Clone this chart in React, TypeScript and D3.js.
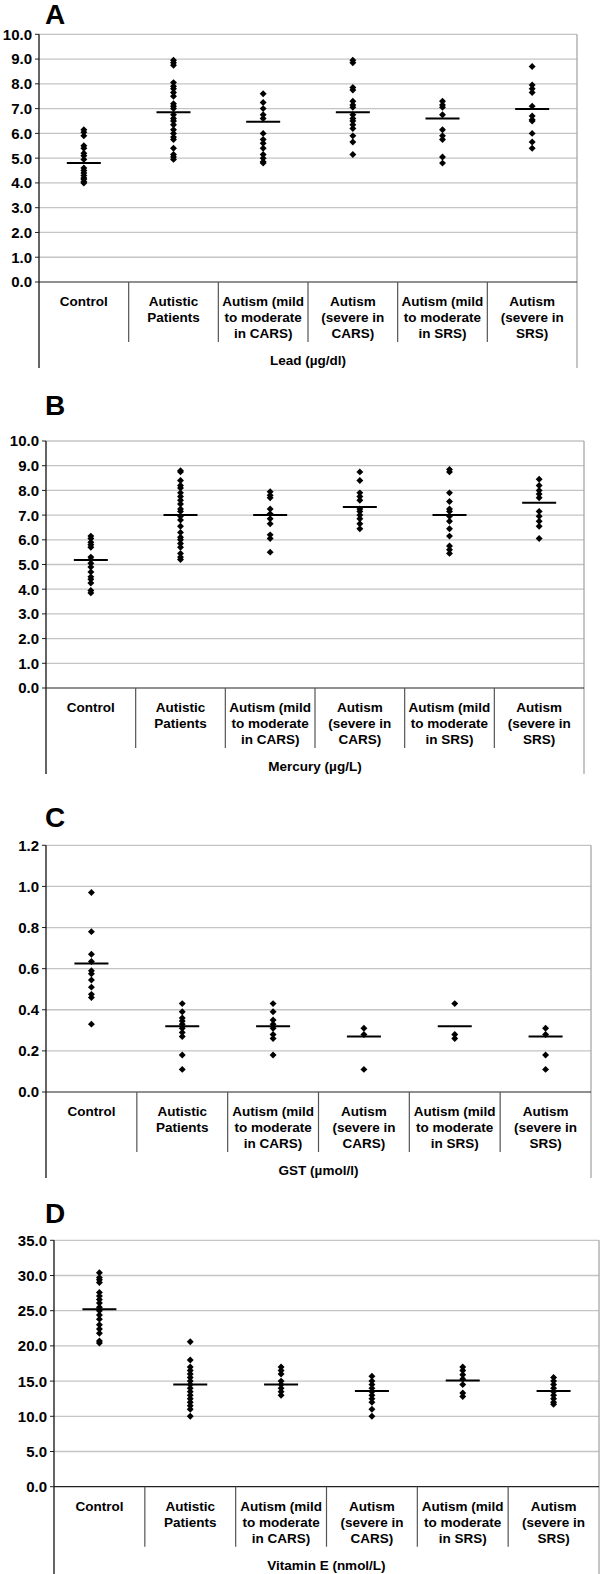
import * as d3 from "d3";

// group labels, split as in the figure
const groupLines: string[][] = [
  ["Control"],
  ["Autistic", "Patients"],
  ["Autism (mild", "to moderate", "in CARS)"],
  ["Autism", "(severe in", "CARS)"],
  ["Autism (mild", "to moderate", "in SRS)"],
  ["Autism", "(severe in", "SRS)"],
];

// A - lead
const leadPoints: number[][] = [
  [6.15, 6.05, 5.9, 5.5, 5.4, 5.2, 5.1, 4.95, 4.6, 4.5, 4.4, 4.3, 4.2, 4.15, 4.05, 4.0],
  [8.95, 8.85, 8.75, 8.05, 7.9, 7.8, 7.65, 7.5, 7.2, 7.1, 7.0, 6.75, 6.6, 6.5, 6.35, 6.15, 6.0, 5.85, 5.75, 5.4, 5.15, 5.05, 4.95],
  [7.6, 7.25, 7.0, 6.75, 6.6, 6.0, 5.75, 5.6, 5.4, 5.15, 5.0, 4.85, 4.8],
  [8.95, 8.85, 7.85, 7.75, 7.3, 7.15, 7.05, 6.75, 6.6, 6.5, 6.35, 6.2, 5.9, 5.65, 5.15],
  [7.3, 7.15, 7.05, 6.75, 6.15, 5.9, 5.75, 5.05, 4.8],
  [8.7, 7.95, 7.8, 7.65, 7.1, 6.7, 6.55, 6.5, 6.0, 5.65, 5.4],
];
const leadMeans = [4.8, 6.85, 6.47, 6.85, 6.6, 6.98];

// B - mercury
const mercuryPoints: number[][] = [
  [6.15, 6.05, 5.9, 5.8, 5.7, 5.3, 5.2, 5.05, 4.9, 4.7, 4.5, 4.4, 4.25, 3.95, 3.85],
  [8.8, 8.75, 8.4, 8.2, 8.1, 7.9, 7.75, 7.6, 7.45, 7.25, 7.15, 6.95, 6.8, 6.55, 6.3, 6.1, 6.0, 5.85, 5.7, 5.45, 5.3, 5.2],
  [7.95, 7.8, 7.7, 7.25, 7.05, 6.85, 6.65, 6.2, 6.05, 5.5],
  [8.75, 8.4, 7.9, 7.75, 7.6, 7.25, 7.15, 7.0, 6.85, 6.65, 6.45],
  [8.85, 8.75, 7.9, 7.55, 7.25, 7.15, 6.95, 6.75, 6.45, 6.15, 5.75, 5.6, 5.45],
  [8.45, 8.2, 8.0, 7.85, 7.7, 7.15, 6.95, 6.75, 6.55, 6.05],
];
const mercuryMeans = [5.18, 7.0, 7.0, 7.33, 7.0, 7.5];

// C - GST
const gstPoints: number[][] = [
  [0.97, 0.78, 0.67, 0.635, 0.59, 0.575, 0.545, 0.51, 0.475, 0.46, 0.33],
  [0.43, 0.39, 0.36, 0.345, 0.33, 0.31, 0.29, 0.27, 0.18, 0.11],
  [0.43, 0.39, 0.35, 0.33, 0.31, 0.28, 0.26, 0.18],
  [0.31, 0.28, 0.11],
  [0.43, 0.28, 0.26],
  [0.31, 0.28, 0.18, 0.11],
];
const gstMeans = [0.625, 0.32, 0.32, 0.27, 0.32, 0.27];

// D - vitamin E
const vitEPoints: number[][] = [
  [30.4, 29.7, 29.4, 29.0, 27.6, 27.1, 26.6, 26.1, 25.5, 25.0, 24.4, 23.8, 23.0, 22.4, 21.8, 20.7, 20.4],
  [20.6, 18.0, 17.0, 16.5, 16.0, 15.5, 15.0, 14.5, 14.0, 13.5, 13.0, 12.5, 12.0, 11.5, 11.0, 10.0],
  [17.0, 16.5, 16.0, 15.0, 14.5, 14.0, 13.5, 13.0],
  [15.7, 15.0, 14.5, 14.0, 13.5, 13.0, 12.5, 12.0, 11.0, 10.0],
  [17.0, 16.5, 15.9, 15.3, 14.5, 13.3, 12.8],
  [15.5, 15.0, 14.5, 14.0, 13.5, 13.0, 12.5, 12.0, 11.7],
];
const vitEMeans = [25.2, 14.5, 14.5, 13.6, 15.1, 13.6];

const leadTicks = d3.range(0, 10.01, 1);
const mercuryTicks = d3.range(0, 10.01, 1);
const gstTicks = [0, 0.2, 0.4, 0.6, 0.8, 1.0, 1.2];
const vitETicks = d3.range(0, 35.01, 5);

const FONT = "Arial, 'Liberation Sans', sans-serif";

type PanelProps = {
  letter: string;
  letterY: number;
  top: number;
  bottom: number;
  left: number;
  right: number;
  max: number;
  ticks: number[];
  fmt: string;
  label: string;
  points: number[][];
  means: number[];
  outerEnd?: number;
};

function Panel(p: PanelProps) {
  const x = d3
    .scaleBand<number>()
    .domain(d3.range(groupLines.length))
    .range([p.left, p.right])
    .padding(0);
  const y = d3.scaleLinear().domain([0, p.max]).range([p.bottom, p.top]);
  const f = d3.format(p.fmt);
  const diamond = d3.symbol(d3.symbolSquare, 24)();
  const outer = p.outerEnd ?? p.bottom + 86;

  return (
    <g>
      <text x={45} y={p.letterY} fontSize={28} fontWeight="bold" fontFamily={FONT}>
        {p.letter}
      </text>
      {p.ticks.map((t) => (
        <g key={t}>
          {t > 0 && (
            <line x1={p.left} x2={p.right} y1={y(t)} y2={y(t)} stroke="#c4c4c4" strokeWidth={1.3} />
          )}
          <line x1={p.left - 4} x2={p.left} y1={y(t)} y2={y(t)} stroke="#222" />
          <text
            x={p.left - 7}
            y={y(t)}
            dy="0.36em"
            textAnchor="end"
            fontSize={15}
            fontWeight="bold"
            fontFamily={FONT}
          >
            {f(t)}
          </text>
        </g>
      ))}
      {/* right border, continues down through the label box */}
      <line x1={p.right} x2={p.right} y1={p.top} y2={outer} stroke="#a8a8a8" strokeWidth={1.3} />
      {/* left axis + outer bracket */}
      <line x1={p.left} x2={p.left} y1={p.top} y2={outer} stroke="#111" strokeWidth={1.3} />
      <line x1={p.left} x2={p.right} y1={p.bottom} y2={p.bottom} stroke="#222" strokeWidth={1.2} />
      {d3.range(1, groupLines.length).map((i) => (
        <line
          key={i}
          x1={x(i)}
          x2={x(i)}
          y1={p.bottom}
          y2={p.bottom + 60}
          stroke="#555"
          strokeWidth={1.2}
        />
      ))}
      {groupLines.map((lines, i) => (
        <text
          key={i}
          x={(x(i) ?? 0) + x.bandwidth() / 2}
          y={p.bottom + 24}
          textAnchor="middle"
          fontSize={13.5}
          fontWeight="bold"
          fontFamily={FONT}
        >
          {lines.map((s, j) => (
            <tspan key={j} x={(x(i) ?? 0) + x.bandwidth() / 2} dy={j === 0 ? 0 : 16}>
              {s}
            </tspan>
          ))}
        </text>
      ))}
      <text
        x={(p.left + p.right) / 2}
        y={p.bottom + 83}
        textAnchor="middle"
        fontSize={13.5}
        fontWeight="bold"
        fontFamily={FONT}
      >
        {p.label}
      </text>
      {p.points.map((vals, i) => {
        const cx = (x(i) ?? 0) + x.bandwidth() / 2;
        return (
          <g key={i}>
            {vals.map((v, j) => (
              <path key={j} d={diamond ?? ""} transform={`translate(${cx},${y(v)}) rotate(45)`} fill="#000" />
            ))}
            <line x1={cx - 17} x2={cx + 17} y1={y(p.means[i])} y2={y(p.means[i])} stroke="#000" strokeWidth={2} />
          </g>
        );
      })}
    </g>
  );
}

export default function App() {
  return (
    <svg
      width={600}
      height={1574}
      style={{ position: "absolute", left: 0, top: 0, background: "#fff" }}
    >
      <rect width={600} height={1574} fill="#fff" />
      <Panel
        letter="A"
        letterY={24}
        top={34.3}
        bottom={282}
        left={39}
        right={577}
        max={10}
        ticks={leadTicks}
        fmt=".1f"
        label="Lead (µg/dl)"
        points={leadPoints}
        means={leadMeans}
      />
      <Panel
        letter="B"
        letterY={415}
        top={441}
        bottom={688}
        left={46}
        right={584}
        max={10}
        ticks={mercuryTicks}
        fmt=".1f"
        label="Mercury (µg/L)"
        points={mercuryPoints}
        means={mercuryMeans}
      />
      <Panel
        letter="C"
        letterY={827}
        top={845.3}
        bottom={1092}
        left={46}
        right={591}
        max={1.2}
        ticks={gstTicks}
        fmt=".1f"
        label="GST (µmol/l)"
        points={gstPoints}
        means={gstMeans}
      />
      <Panel
        letter="D"
        letterY={1223}
        top={1240.3}
        bottom={1486.7}
        left={54}
        right={599}
        max={35}
        ticks={vitETicks}
        fmt=".1f"
        label="Vitamin E (nmol/L)"
        points={vitEPoints}
        means={vitEMeans}
        outerEnd={1574}
      />
    </svg>
  );
}
